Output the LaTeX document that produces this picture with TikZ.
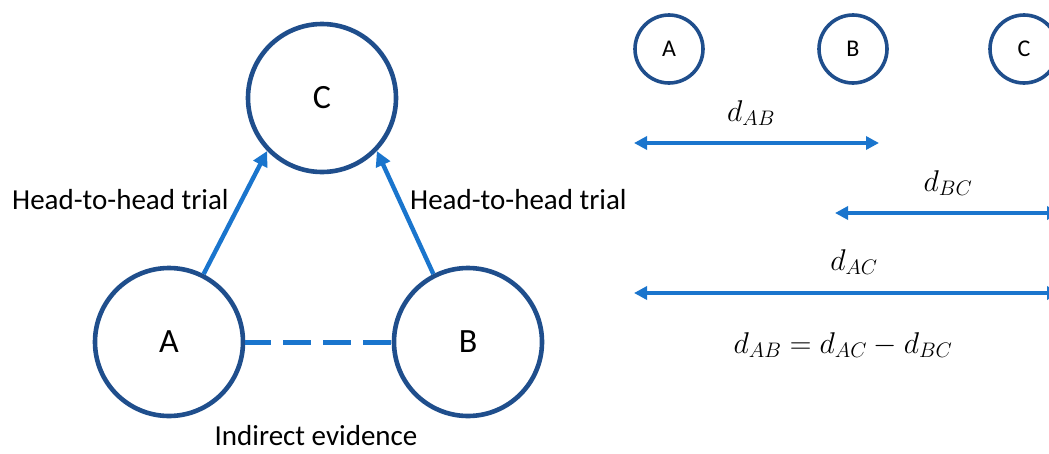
\RequirePackage{fix-cm}
\documentclass[tikz,border=0pt]{standalone}
\usepackage{fontspec}
\setmainfont{Carlito}
\usetikzlibrary{arrows.meta}
\definecolor{circblue}{RGB}{31,78,140}
\definecolor{arrblue}{RGB}{26,117,205}
\begin{document}
\begin{tikzpicture}[x=1pt,y=-1pt,
  bigcirc/.style={circle,draw=circblue,line width=4.6pt,minimum size=148pt,inner sep=0pt,font=\fontsize{34}{40}\selectfont},
  smallcirc/.style={circle,draw=circblue,line width=3.6pt,minimum size=68pt,inner sep=0pt,font=\fontsize{24}{28}\selectfont},
  lbl/.style={font=\fontsize{29}{34}\selectfont,inner sep=0pt},
  mlbl/.style={font=\fontsize{30}{36}\selectfont,inner sep=0pt},
  conn/.style={draw=arrblue,line width=4.4pt,-{Triangle[length=15pt,width=15pt]}},
  dist/.style={draw=arrblue,line width=3.8pt,{Triangle[length=13pt,width=13pt]}-{Triangle[length=13pt,width=13pt]}},
  ind/.style={draw=arrblue,line width=5pt,dash pattern=on 28pt off 12pt,dash phase=2pt}]
\clip (0,0) rectangle (1049,453);
% left diagram
\node[bigcirc] (C) at (322,98) {C};
\node[bigcirc] (A) at (169,342) {A};
\node[bigcirc] (B) at (468,342) {B};
\draw[conn] (A.63) -- (C.224);
\draw[conn] (B.117) -- (C.316);
\draw[ind] (A.east) -- (B.west);
\node[lbl,anchor=west] (h1) at (12,200) {Head-to-head trial};
\node[lbl,anchor=west] (h2) at (410,200) {Head-to-head trial};
\node[lbl] (ie) at (316,436) {Indirect evidence};
% right diagram
\node[smallcirc] (sa) at (669,49) {A};
\node[smallcirc] (sb) at (853,49) {B};
\node[smallcirc] (sc) at (1024,49) {C};
\coordinate (p1) at (634,143);
\coordinate (q1) at (879,143);
\coordinate (p2) at (835,213);
\coordinate (q2) at (1060,213);
\coordinate (p3) at (634,293);
\coordinate (q3) at (1060,293);
\draw[dist] (p1) -- (q1);
\draw[dist] (p2) -- (q2);
\draw[dist] (p3) -- (q3);
\node[mlbl] (dab) at (751,113) {$d_{AB}$};
\node[mlbl] (dbc) at (948,183) {$d_{BC}$};
\node[mlbl] (dac) at (854,262) {$d_{AC}$};
\node[mlbl] (eq) at (843,345) {$d_{AB}=d_{AC}-d_{BC}$};
\end{tikzpicture}
\end{document}
